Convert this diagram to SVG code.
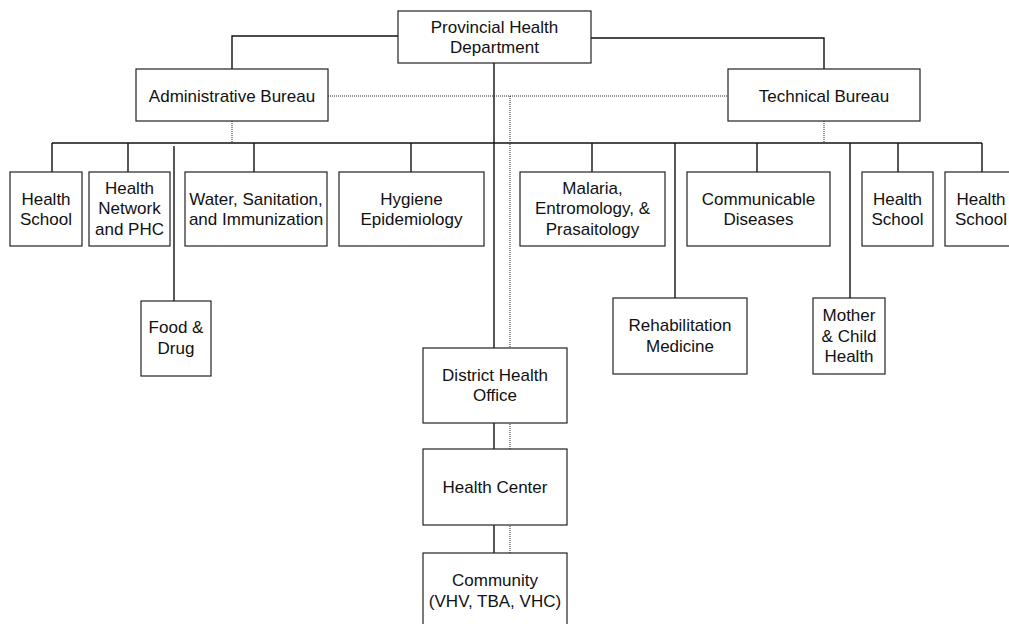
<svg xmlns="http://www.w3.org/2000/svg" width="1009" height="624" viewBox="0 0 1009 624">
  <style>
    .box { fill: #ffffff; stroke: #222222; stroke-width: 1.2; }
    .ln { fill: none; stroke: #111111; stroke-width: 1.4; }
    .dot { fill: none; stroke: #222222; stroke-width: 1; stroke-dasharray: 1 1; }
    text { font-family: "Liberation Sans", Arial, sans-serif; font-size: 17px; fill: #111111; text-anchor: middle; }
  </style>
  <rect x="0" y="0" width="1009" height="624" fill="#ffffff"/>

  <!-- connectors -->
  <g id="connectors">
    <!-- department to bureaus -->
    <polyline class="ln" points="398,36 232,36 232,69"/>
    <polyline class="ln" points="591,38 824,38 824,69"/>
    <!-- dotted coordination links -->
    <line class="dot" x1="328" y1="96" x2="728" y2="96"/>
    <line class="dot" x1="510" y1="96" x2="510" y2="553"/>
    <line class="dot" x1="232" y1="121" x2="232" y2="143"/>
    <line class="dot" x1="824" y1="121" x2="824" y2="143"/>
    <!-- main bus -->
    <line class="ln" x1="52" y1="143" x2="982" y2="143"/>
    <!-- spine down to district level -->
    <line class="ln" x1="494" y1="63" x2="494" y2="348"/>
    <line class="ln" x1="494" y1="423" x2="494" y2="449"/>
    <line class="ln" x1="494" y1="525" x2="494" y2="553"/>
    <!-- drops to units -->
    <line class="ln" x1="52" y1="143" x2="52" y2="172"/>
    <line class="ln" x1="128" y1="143" x2="128" y2="172"/>
    <line class="ln" x1="174" y1="146" x2="174" y2="301"/>
    <line class="ln" x1="254" y1="143" x2="254" y2="172"/>
    <line class="ln" x1="411" y1="143" x2="411" y2="172"/>
    <line class="ln" x1="592" y1="143" x2="592" y2="172"/>
    <line class="ln" x1="675" y1="143" x2="675" y2="298"/>
    <line class="ln" x1="757" y1="143" x2="757" y2="172"/>
    <line class="ln" x1="850" y1="143" x2="850" y2="298"/>
    <line class="ln" x1="898" y1="143" x2="898" y2="172"/>
    <line class="ln" x1="982" y1="143" x2="982" y2="172"/>
  </g>

  <g id="provincial-health-department">
    <rect class="box" x="398" y="11" width="193" height="52"/>
    <text x="494.5" y="32.5">Provincial Health</text>
    <text x="494.5" y="53">Department</text>
  </g>
  <g id="administrative-bureau">
    <rect class="box" x="136" y="69" width="192" height="52"/>
    <text x="232" y="101.5">Administrative Bureau</text>
  </g>
  <g id="technical-bureau">
    <rect class="box" x="728" y="69" width="192" height="52"/>
    <text x="824" y="101.5">Technical Bureau</text>
  </g>

  <g id="health-school-1">
    <rect class="box" x="10" y="172" width="72" height="74"/>
    <text x="46" y="204.5">Health</text>
    <text x="46" y="225">School</text>
  </g>
  <g id="health-network-phc">
    <rect class="box" x="89" y="172" width="81" height="74"/>
    <text x="129.5" y="193.5">Health</text>
    <text x="129.5" y="214">Network</text>
    <text x="129.5" y="234.5">and PHC</text>
  </g>
  <g id="food-drug">
    <rect class="box" x="141" y="301" width="70" height="75"/>
    <text x="176" y="333">Food &amp;</text>
    <text x="176" y="353.5">Drug</text>
  </g>
  <g id="water-sanitation-immunization">
    <rect class="box" x="185" y="172" width="142" height="74"/>
    <text x="256" y="204.5">Water, Sanitation,</text>
    <text x="256" y="225">and Immunization</text>
  </g>
  <g id="hygiene-epidemiology">
    <rect class="box" x="339" y="172" width="145" height="74"/>
    <text x="411.5" y="204.5">Hygiene</text>
    <text x="411.5" y="225">Epidemiology</text>
  </g>
  <g id="malaria-entomology">
    <rect class="box" x="520" y="172" width="145" height="74"/>
    <text x="592.5" y="193.5">Malaria,</text>
    <text x="592.5" y="214">Entromology, &amp;</text>
    <text x="592.5" y="234.5">Prasaitology</text>
  </g>
  <g id="rehabilitation-medicine">
    <rect class="box" x="613" y="298" width="134" height="76"/>
    <text x="680" y="331">Rehabilitation</text>
    <text x="680" y="351.5">Medicine</text>
  </g>
  <g id="communicable-diseases">
    <rect class="box" x="687" y="172" width="143" height="74"/>
    <text x="758.5" y="204.5">Communicable</text>
    <text x="758.5" y="225">Diseases</text>
  </g>
  <g id="mother-child-health">
    <rect class="box" x="813" y="298" width="72" height="76"/>
    <text x="849" y="321">Mother</text>
    <text x="849" y="341.5">&amp; Child</text>
    <text x="849" y="362">Health</text>
  </g>
  <g id="health-school-2">
    <rect class="box" x="862" y="172" width="71" height="74"/>
    <text x="897.5" y="204.5">Health</text>
    <text x="897.5" y="225">School</text>
  </g>
  <g id="health-school-3">
    <rect class="box" x="945" y="172" width="72" height="74"/>
    <text x="981" y="204.5">Health</text>
    <text x="981" y="225">School</text>
  </g>

  <g id="district-health-office">
    <rect class="box" x="423" y="348" width="144" height="75"/>
    <text x="495" y="380.5">District Health</text>
    <text x="495" y="401">Office</text>
  </g>
  <g id="health-center">
    <rect class="box" x="423" y="449" width="144" height="76"/>
    <text x="495" y="492.5">Health Center</text>
  </g>
  <g id="community">
    <rect class="box" x="423" y="553" width="144" height="74"/>
    <text x="495" y="586">Community</text>
    <text x="495" y="606.5">(VHV, TBA, VHC)</text>
  </g>
</svg>
